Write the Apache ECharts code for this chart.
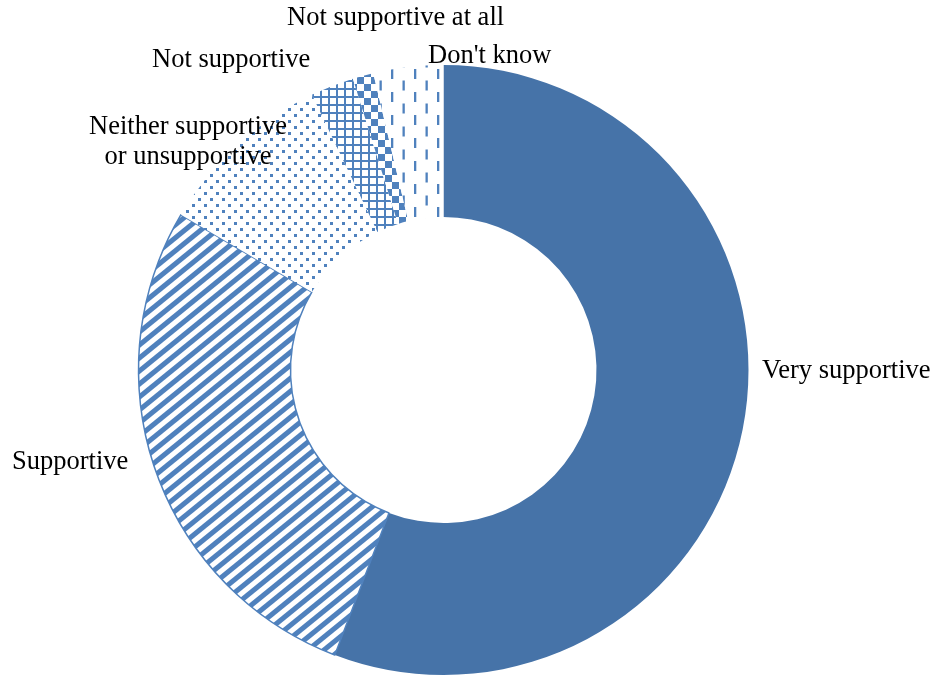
<!DOCTYPE html>
<html>
<head>
<meta charset="utf-8">
<script src="https://cdn.jsdelivr.net/npm/echarts@6/dist/echarts.min.js"></script>
<style>
html,body{margin:0;padding:0;background:#fff;}
#chart{width:936px;height:676px;}
</style>
</head>
<body>
<div id="chart"></div>
<script>
// ---- data ----
var categories = ["Very supportive", "Supportive", "Neither supportive or unsupportive", "Not supportive", "Not supportive at all", "Don't know"];
var values = [55.8, 27.7, 9.4, 2.3, 1.1, 3.7];

// ---- label placement (layout, not data) ----
var labelPos = [
  {x: 762, y: 371, align: 'left'},
  {x: 12, y: 462, align: 'left'},
  {x: 188, y: 142, align: 'center'},
  {x: 152, y: 60, align: 'left'},
  {x: 287, y: 18, align: 'left'},
  {x: 428, y: 56, align: 'left'}
];

var BLUE = '#4F81BD';
var SOLID = '#4673A8';

function tile(w, h, draw) {
  var c = document.createElement('canvas');
  c.width = w; c.height = h;
  var ctx = c.getContext('2d');
  ctx.fillStyle = '#ffffff';
  ctx.fillRect(0, 0, w, h);
  ctx.fillStyle = BLUE;
  ctx.strokeStyle = BLUE;
  draw(ctx, w, h);
  return {image: c, repeat: 'repeat'};
}

var stripes = tile(16, 13, function (ctx, w, h) {
  // rising stripes "/", vertical band thickness about 6.5px
  var t = 6.5;
  for (var k = -1; k <= 1; k++) {
    ctx.beginPath();
    ctx.moveTo(-w, 2 * h + k * h);
    ctx.lineTo(w, k * h);
    ctx.lineTo(w, k * h + t);
    ctx.lineTo(-w, 2 * h + k * h + t);
    ctx.closePath();
    ctx.fill();
  }
});
var dots = tile(12, 12, function (ctx) {
  ctx.fillRect(0, 0, 3, 3);
  ctx.fillRect(6, 6, 3, 3);
});
var grid = tile(8, 8, function (ctx) {
  ctx.fillRect(0, 0, 8, 2);
  ctx.fillRect(0, 0, 2, 8);
});
var checker = tile(14, 14, function (ctx) {
  ctx.fillRect(0, 0, 7, 7);
  ctx.fillRect(7, 7, 7, 7);
});
var dashes = tile(23, 23, function (ctx) {
  ctx.fillRect(0, 0, 2.3, 10);
  ctx.fillRect(11.5, 11.5, 2.3, 10);
});

var fills = [SOLID, stripes, dots, grid, checker, dashes];

var chart = echarts.init(document.getElementById('chart'), null, {renderer: 'canvas'});
chart.setOption({
  backgroundColor: '#ffffff',
  animation: false,
  series: [{
    type: 'pie',
    center: [443.5, 370],
    radius: [153, 305],
    startAngle: 90,
    clockwise: true,
    avoidLabelOverlap: false,
    label: {
      show: true,
      position: 'outside',
      color: '#000',
      fontFamily: '"Liberation Serif", "Times New Roman", serif',
      fontSize: 26.5,
      lineHeight: 30,
      formatter: function (p) { return p.name.replace(' or ', '\nor '); }
    },
    labelLine: {show: false},
    labelLayout: function (params) {
      var p = labelPos[params.dataIndex];
      return {x: p.x, y: p.y, align: p.align, verticalAlign: 'middle'};
    },
    emphasis: {disabled: true},
    data: categories.map(function (c, i) {
      return {
        name: c,
        value: values[i],
        itemStyle: {
          color: fills[i],
          borderColor: i === 1 ? BLUE : 'transparent',
          borderWidth: i === 1 ? 1.5 : 0
        }
      };
    })
  }]
});
</script>
</body>
</html>
